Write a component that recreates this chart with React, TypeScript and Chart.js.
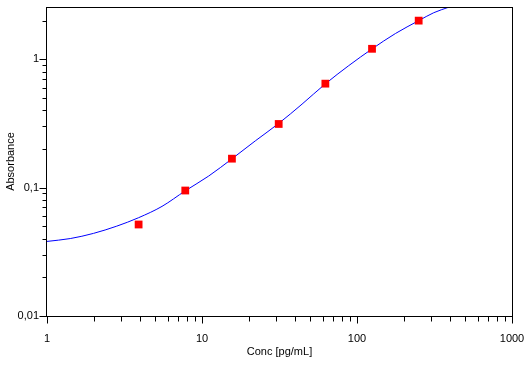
import React, { useEffect, useRef } from "react";
import { Chart, registerables } from "chart.js";

Chart.register(...registerables);

// Standards (measured points)
const concentrations = [3.9, 7.8, 15.6, 31.25, 62.5, 125, 250];
const absorbances = [0.0516, 0.0949, 0.168, 0.313, 0.645, 1.205, 1.997];

// Fitted curve
const curveConc = [1.0, 1.413, 1.995, 2.818, 3.9, 5.52, 7.8, 11.04, 15.6, 22.08, 31.26, 44.2, 62.5, 88.5, 125, 177, 250, 312.6, 390.8];
const curveAbs = [0.0381, 0.0401, 0.044, 0.0501, 0.0583, 0.0714, 0.0944, 0.123, 0.1675, 0.2312, 0.3162, 0.4467, 0.6427, 0.8913, 1.2023, 1.585, 1.995, 2.301, 2.541];

// Axis ticks
const xDecades = [1, 10, 100];
const yDecades = [0.01, 0.1, 1];
const minorSteps = [1, 2, 3, 4, 5, 6, 7, 8, 9];
const xMin = 1;
const xMax = 1000;
const yMin = 0.01;
const yMax = 2.55;

const FONT = "'Liberation Sans', Arial, sans-serif";

const isMajor = (v: number) => {
  const l = Math.log10(v);
  return Math.abs(l - Math.round(l)) < 1e-9;
};

const buildTicks = (decades: number[], lo: number, hi: number) => {
  const out: number[] = [];
  decades.forEach((d) => minorSteps.forEach((m) => out.push(Number((m * d).toPrecision(6)))));
  out.push(Number((decades[decades.length - 1] * 10).toPrecision(6)));
  return out.filter((v) => v >= lo - 1e-12 && v <= hi + 1e-12);
};

const xTicks = buildTicks(xDecades, xMin, xMax);
const yTicks = buildTicks(yDecades, yMin, yMax);

const fmt = (v: number) => String(v).replace(".", ",");

const frameTicksPlugin = {
  id: "frameTicks",
  afterDraw(chart: any) {
    const { ctx, chartArea: a, scales } = chart;
    ctx.save();
    ctx.strokeStyle = "#000000";
    ctx.lineWidth = 1;
    const L = Math.round(a.left) - 0.5;
    const R = Math.round(a.right) + 0.5;
    const T = Math.round(a.top) + 0.5;
    const B = Math.round(a.bottom) + 0.5;
    ctx.strokeRect(L, T, R - L, B - T);
    ctx.beginPath();
    xTicks.forEach((v) => {
      const px = Math.round(scales.x.getPixelForValue(v)) + 0.5;
      const len = isMajor(v) ? 7 : 5;
      ctx.moveTo(px, B);
      ctx.lineTo(px, B + len);
    });
    yTicks.forEach((v) => {
      const py = Math.round(scales.y.getPixelForValue(v)) + 0.5;
      const len = isMajor(v) ? 7 : 4;
      ctx.moveTo(L, py);
      ctx.lineTo(L - len, py);
    });
    ctx.stroke();
    ctx.restore();
  },
};

export default function App() {
  const canvasRef = useRef<HTMLCanvasElement | null>(null);

  useEffect(() => {
    document.body.style.margin = "0";
    const canvas = canvasRef.current;
    if (!canvas) return;

    const points = concentrations.map((c, i) => ({ x: c, y: absorbances[i] }));
    const curve = curveConc.map((c, i) => ({ x: c, y: curveAbs[i] }));

    const chart = new Chart(canvas, {
      type: "line",
      data: {
        datasets: [
          {
            label: "Standards",
            data: points,
            showLine: false,
            pointStyle: "rect",
            pointRadius: 5.5,
            pointHoverRadius: 5.5,
            pointBackgroundColor: "#FF0000",
            pointBorderColor: "#FF0000",
            pointBorderWidth: 0,
            order: 0,
          },
          {
            label: "Fit",
            data: curve,
            borderColor: "#0000FF",
            borderWidth: 1,
            pointRadius: 0,
            pointHoverRadius: 0,
            fill: false,
            cubicInterpolationMode: "monotone",
            order: 1,
          },
        ],
      },
      options: {
        responsive: false,
        animation: false,
        devicePixelRatio: 1,
        layout: { padding: { top: 7, right: 20, left: 0, bottom: 0 } },
        plugins: {
          legend: { display: false },
          tooltip: { enabled: false },
          title: { display: false },
        },
        scales: {
          x: {
            type: "logarithmic",
            min: xMin,
            max: xMax,
            afterBuildTicks: (s: any) => {
              s.ticks = xTicks.map((v) => ({ value: v, major: isMajor(v) }));
            },
            afterFit: (s: any) => {
              s.height = 50;
              s.paddingLeft = 0;
              s.paddingRight = 0;
            },
            grid: { display: true, drawOnChartArea: false, drawTicks: false, color: "rgba(0,0,0,0)" },
            border: { display: false },
            ticks: {
              autoSkip: false,
              maxRotation: 0,
              minRotation: 0,
              padding: 16,
              color: "#000000",
              font: { family: FONT, size: 11 },
              callback: (v: any) => (isMajor(Number(v)) ? fmt(Number(v)) : ""),
            },
            title: {
              display: true,
              text: "Conc [pg/mL]",
              color: "#000000",
              font: { family: FONT, size: 11 },
              padding: 7,
            },
          },
          y: {
            type: "logarithmic",
            min: yMin,
            max: yMax,
            afterBuildTicks: (s: any) => {
              s.ticks = yTicks.map((v) => ({ value: v, major: isMajor(v) }));
            },
            afterFit: (s: any) => {
              s.width = 47;
              s.paddingTop = 0;
              s.paddingBottom = 0;
            },
            grid: { display: true, drawOnChartArea: false, drawTicks: false, color: "rgba(0,0,0,0)" },
            border: { display: false },
            ticks: {
              autoSkip: false,
              padding: 8,
              color: "#000000",
              font: { family: FONT, size: 11 },
              callback: (v: any) => (isMajor(Number(v)) ? fmt(Number(v)) : ""),
            },
            title: {
              display: true,
              text: "Absorbance",
              color: "#000000",
              font: { family: FONT, size: 11 },
              padding: 4,
            },
          },
        },
      },
      plugins: [frameTicksPlugin],
    } as any);

    return () => chart.destroy();
  }, []);

  return (
    <div style={{ width: 532, height: 366, position: "relative", background: "#ffffff" }}>
      <canvas ref={canvasRef} width={532} height={366} style={{ display: "block" }} />
    </div>
  );
}
